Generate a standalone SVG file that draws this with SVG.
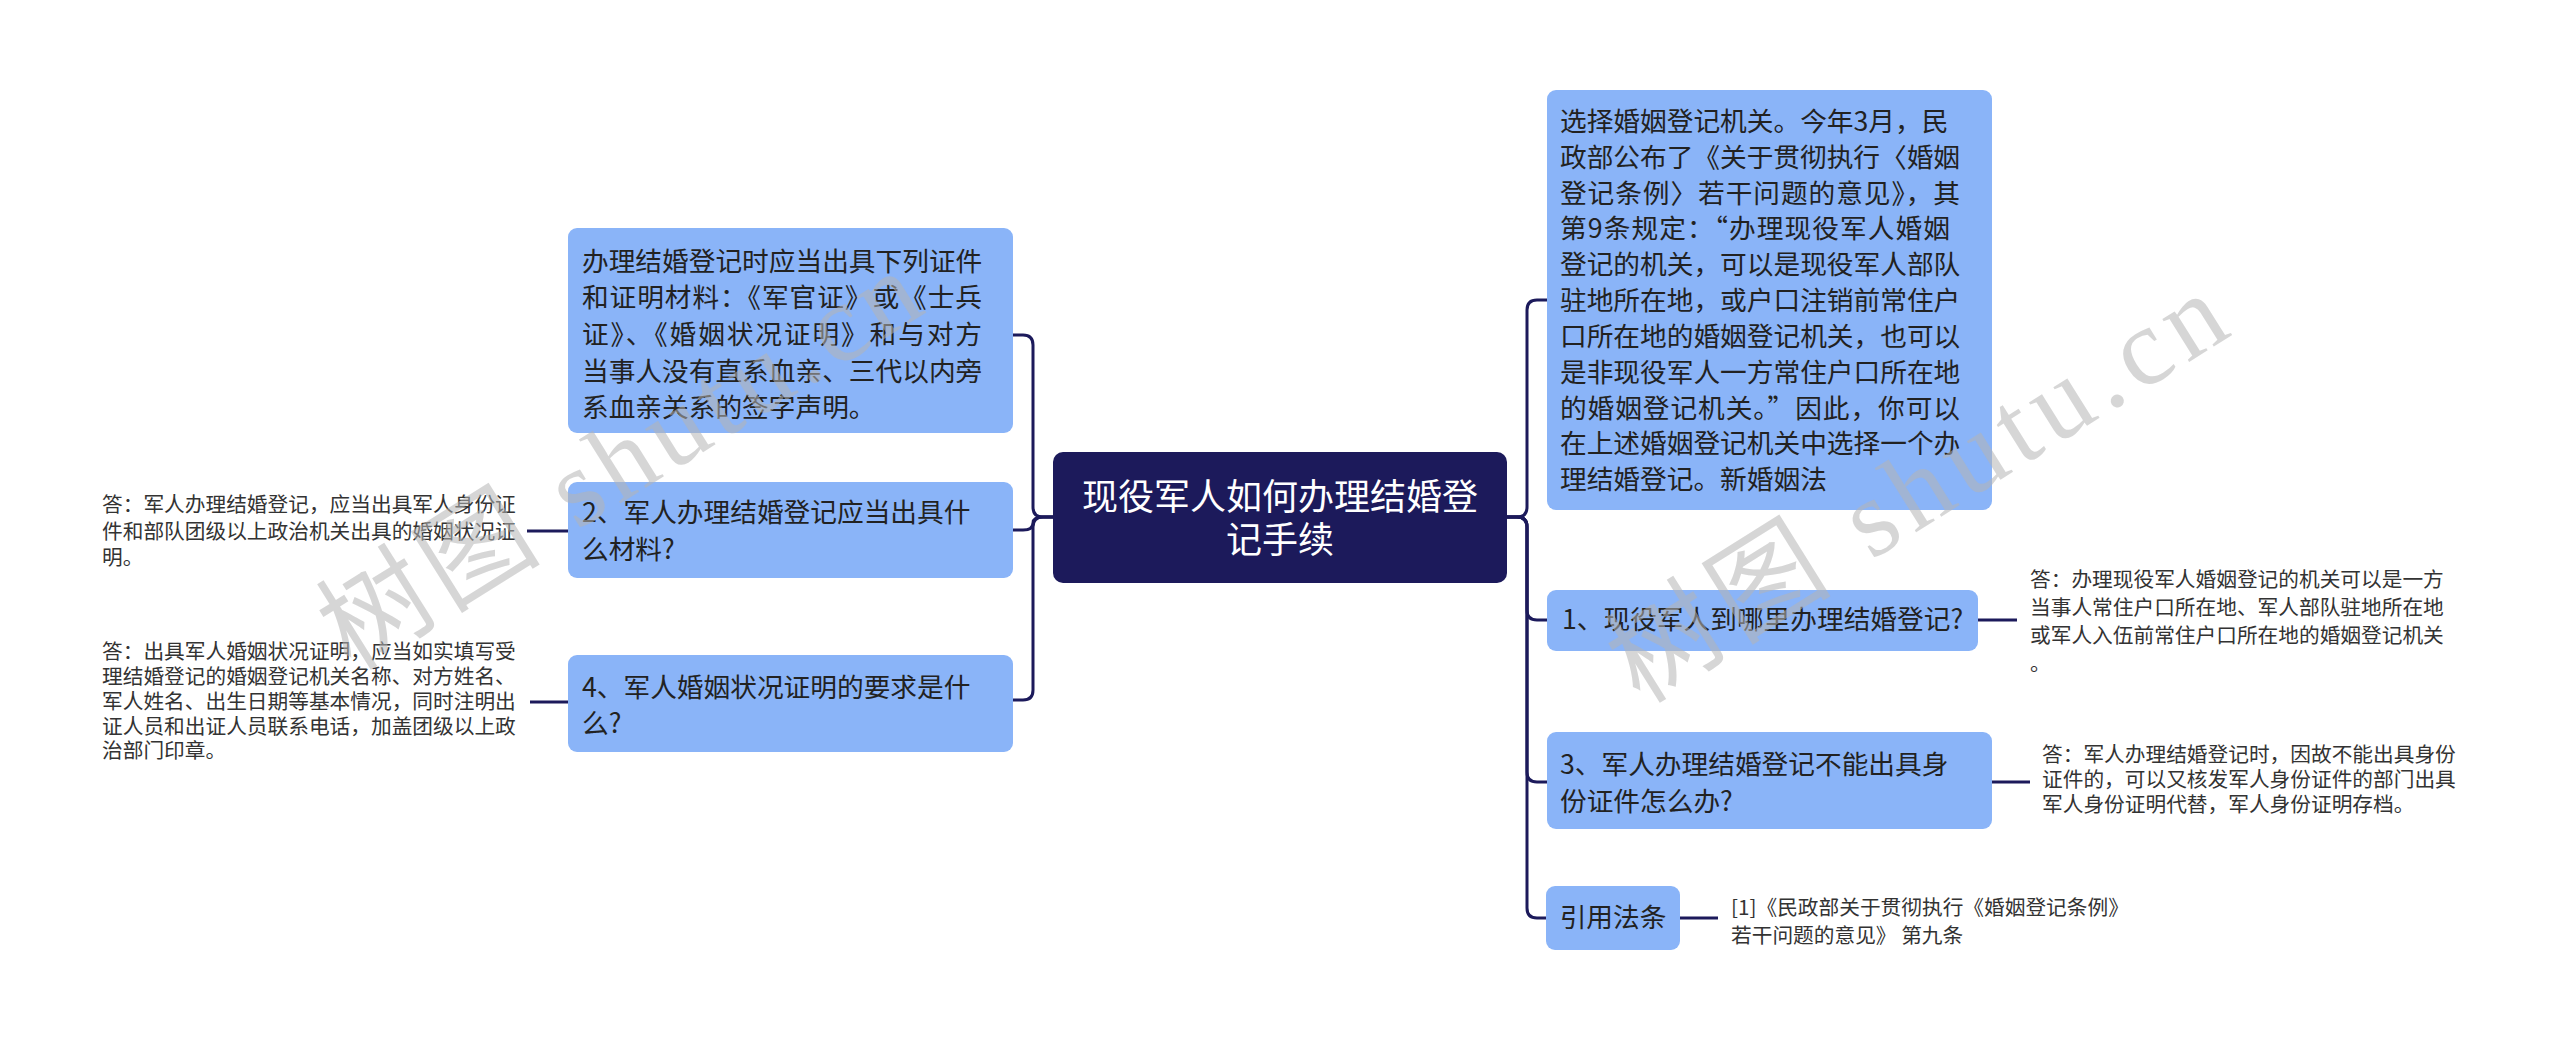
<svg xmlns="http://www.w3.org/2000/svg" width="2560" height="1041" viewBox="0 0 2560 1041">
<style>
.bg{fill:#ffffff}
.node{fill:#8ab4f8}
.root{fill:#1c1a5b}
.t{font-family:"Noto Sans CJK SC","Noto Sans",sans-serif;font-size:26.7px;fill:#222222}
.rt{font-family:"Noto Sans CJK SC","Noto Sans",sans-serif;font-size:36px;fill:#ffffff;text-anchor:middle}
.a{font-family:"Noto Sans CJK SC","Noto Sans",sans-serif;font-size:20.7px;fill:#333333}
.c{fill:none;stroke:#1c1a5b;stroke-width:3}
.wm{font-family:"Liberation Serif","Noto Sans CJK SC",serif;font-size:110px;fill:#b4b4b4;fill-opacity:0.55}
</style>
<rect class="bg" x="0" y="0" width="2560" height="1041"/>
<g id="connectors">
<path class="c" d="M1053,517 H1043 Q1033,517 1033,507 V345 Q1033,335 1023,335 H1013"/>
<path class="c" d="M1053,517 H1043 Q1033,517 1033,523 Q1033,530 1023,530 H1013"/>
<path class="c" d="M1053,517 H1043 Q1033,517 1033,527 V690 Q1033,700 1023,700 H1013"/>
<path class="c" d="M527,531 H568"/>
<path class="c" d="M530,702 H568"/>
<path class="c" d="M1507,517 H1517 Q1527,517 1527,507 V310 Q1527,300 1537,300 H1547"/>
<path class="c" d="M1507,517 H1517 Q1527,517 1527,527 V610 Q1527,620 1537,620 H1547"/>
<path class="c" d="M1507,517 H1517 Q1527,517 1527,527 V772 Q1527,782 1537,782 H1547"/>
<path class="c" d="M1507,517 H1517 Q1527,517 1527,527 V908 Q1527,918 1537,918 H1546"/>
<path class="c" d="M1978,620 H2017"/>
<path class="c" d="M1992,782 H2030"/>
<path class="c" d="M1680,918 H1718"/>
</g>
<g id="root">
<rect class="root" x="1053" y="452" width="454" height="131" rx="10"/>
<text class="rt" x="1280" y="510">现役军人如何办理结婚登</text>
<text class="rt" x="1280" y="553">记手续</text>
</g>
<g id="nodeA">
<rect class="node" x="568" y="228" width="445" height="205" rx="9"/>
<text class="t" x="582" y="271">办理结婚登记时应当出具下列证件</text>
<text class="t" x="582" y="307" textLength="400" lengthAdjust="spacing">和证明材料：《军官证》或《士兵</text>
<text class="t" x="582" y="344" textLength="400" lengthAdjust="spacing">证》、《婚姻状况证明》和与对方</text>
<text class="t" x="582" y="381">当事人没有直系血亲、三代以内旁</text>
<text class="t" x="582" y="417">系血亲关系的签字声明。</text>
</g>
<g id="nodeB">
<rect class="node" x="568" y="482" width="445" height="96" rx="9"/>
<text class="t" x="582" y="522">2、军人办理结婚登记应当出具什</text>
<text class="t" x="582" y="559">么材料?</text>
</g>
<g id="answerB">
<text class="a" x="102" y="512">答：军人办理结婚登记，应当出具军人身份证</text>
<text class="a" x="102" y="539">件和部队团级以上政治机关出具的婚姻状况证</text>
<text class="a" x="102" y="565">明。</text>
</g>
<g id="nodeC">
<rect class="node" x="568" y="655" width="445" height="97" rx="9"/>
<text class="t" x="582" y="697">4、军人婚姻状况证明的要求是什</text>
<text class="t" x="582" y="733">么?</text>
</g>
<g id="answerC">
<text class="a" x="102" y="659">答：出具军人婚姻状况证明，应当如实填写受</text>
<text class="a" x="102" y="684">理结婚登记的婚姻登记机关名称、对方姓名、</text>
<text class="a" x="102" y="709">军人姓名、出生日期等基本情况，同时注明出</text>
<text class="a" x="102" y="734">证人员和出证人员联系电话，加盖团级以上政</text>
<text class="a" x="102" y="758">治部门印章。</text>
</g>
<g id="nodeR1">
<rect class="node" x="1547" y="90" width="445" height="420" rx="9"/>
<text class="t" x="1560" y="131">选择婚姻登记机关。今年3月，民</text>
<text class="t" x="1560" y="167" textLength="400" lengthAdjust="spacing">政部公布了《关于贯彻执行〈婚姻</text>
<text class="t" x="1560" y="203" textLength="400" lengthAdjust="spacing">登记条例〉若干问题的意见》，其</text>
<text class="t" x="1560" y="238" textLength="390" lengthAdjust="spacing">第9条规定：“办理现役军人婚姻</text>
<text class="t" x="1560" y="274">登记的机关，可以是现役军人部队</text>
<text class="t" x="1560" y="310">驻地所在地，或户口注销前常住户</text>
<text class="t" x="1560" y="346">口所在地的婚姻登记机关，也可以</text>
<text class="t" x="1560" y="382">是非现役军人一方常住户口所在地</text>
<text class="t" x="1560" y="418" textLength="400" lengthAdjust="spacing">的婚姻登记机关。”因此，你可以</text>
<text class="t" x="1560" y="453">在上述婚姻登记机关中选择一个办</text>
<text class="t" x="1560" y="489">理结婚登记。新婚姻法</text>
</g>
<g id="nodeR2">
<rect class="node" x="1547" y="590" width="431" height="61" rx="9"/>
<text class="t" x="1562" y="629">1、现役军人到哪里办理结婚登记?</text>
</g>
<g id="answerR2">
<text class="a" x="2030" y="587">答：办理现役军人婚姻登记的机关可以是一方</text>
<text class="a" x="2030" y="615">当事人常住户口所在地、军人部队驻地所在地</text>
<text class="a" x="2030" y="643">或军人入伍前常住户口所在地的婚姻登记机关</text>
<text class="a" x="2030" y="671">。</text>
</g>
<g id="nodeR3">
<rect class="node" x="1547" y="732" width="445" height="97" rx="9"/>
<text class="t" x="1560" y="774">3、军人办理结婚登记不能出具身</text>
<text class="t" x="1560" y="811">份证件怎么办?</text>
</g>
<g id="answerR3">
<text class="a" x="2042" y="762">答：军人办理结婚登记时，因故不能出具身份</text>
<text class="a" x="2042" y="787">证件的，可以又核发军人身份证件的部门出具</text>
<text class="a" x="2042" y="812">军人身份证明代替，军人身份证明存档。</text>
</g>
<g id="nodeR4">
<rect class="node" x="1546" y="886" width="134" height="64" rx="9"/>
<text class="t" x="1613" y="927" text-anchor="middle">引用法条</text>
</g>
<g id="answerR4">
<text class="a" x="1731" y="915">[1]《民政部关于贯彻执行《婚姻登记条例》</text>
<text class="a" x="1731" y="943">若干问题的意见》 第九条</text>
</g>
<g id="watermark">
<text class="wm" transform="translate(351,672) rotate(-32)" textLength="680" lengthAdjust="spacing">树图 shutu.cn</text>
<text class="wm" transform="translate(1640,705) rotate(-32)" textLength="700" lengthAdjust="spacing">树图 shutu.cn</text>
</g>
</svg>
